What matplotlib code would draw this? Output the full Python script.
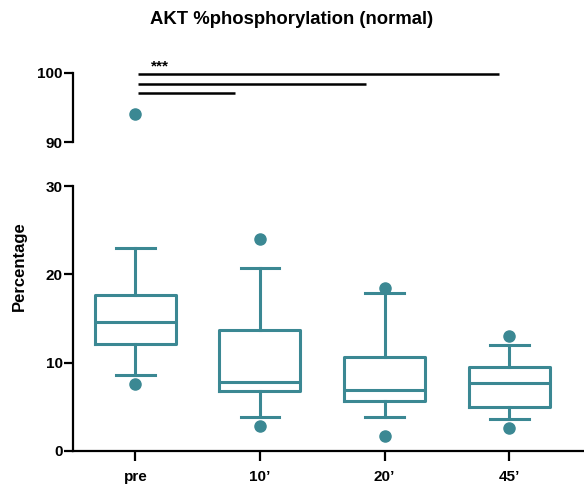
import numpy as np
import matplotlib
matplotlib.use('Agg')
import matplotlib.pyplot as plt

plt.rcParams['font.family'] = ['Liberation Sans', 'DejaVu Sans']
plt.rcParams['font.weight'] = 'bold'

# box plot summary values
groups = ['pre', '10\u2019', '20\u2019', '45\u2019']
med = [14.6, 7.8, 6.9, 7.7]
q1 = [12.1, 6.8, 5.7, 5.0]
q3 = [17.7, 13.7, 10.6, 9.5]
whislo = [8.6, 3.9, 3.9, 3.6]
whishi = [23.0, 20.7, 17.9, 12.0]
fliers = [[7.6, 94.0], [2.8, 24.0], [1.7, 18.5], [2.6, 13.0]]

# significance bars: start, end (x in group units), height
sig_start = [0.02, 0.02, 0.02]
sig_end = [2.92, 1.85, 0.80]
sig_y = [99.8, 98.4, 97.1]

teal = '#3B8893'

stats = []
for i in range(len(groups)):
    stats.append(dict(med=med[i], q1=q1[i], q3=q3[i], whislo=whislo[i],
                      whishi=whishi[i], fliers=fliers[i], label=groups[i]))

fig = plt.figure(figsize=(5.84, 4.87), dpi=100)
left = 73 / 584
ax_lo = fig.add_axes([left, 36 / 487, 1 - left, 265 / 487])
ax_hi = fig.add_axes([left, (487 - 142) / 487, 1 - left, 69 / 487])

pos = np.arange(len(groups))
for ax in (ax_lo, ax_hi):
    ax.bxp(stats, positions=pos, widths=0.65, patch_artist=False,
           boxprops=dict(color=teal, linewidth=2.2),
           medianprops=dict(color=teal, linewidth=2.2),
           whiskerprops=dict(color=teal, linewidth=2.2),
           capprops=dict(color=teal, linewidth=2.2),
           capwidths=0.31,
           flierprops=dict(marker='o', markerfacecolor=teal, markeredgecolor=teal,
                           markersize=8))
    ax.set_xlim(-0.50, 3.6)
    for side in ('top', 'right'):
        ax.spines[side].set_visible(False)
    ax.spines['left'].set_linewidth(1.6)
    ax.spines['bottom'].set_linewidth(1.6)
    ax.tick_params(axis='y', length=6.5, width=1.6, labelsize=11, pad=1)
    ax.tick_params(axis='x', length=7, width=1.6, labelsize=11, pad=7)

ax_lo.set_ylim(0, 30)
ax_lo.set_yticks([0, 10, 20, 30])
ax_lo.set_xticks(pos)
ax_lo.set_xticklabels(groups, fontweight='bold')

ax_hi.set_ylim(90, 100)
ax_hi.set_yticks([90, 100])
ax_hi.spines['bottom'].set_visible(False)
ax_hi.set_xticks([])

for a, b, y in zip(sig_start, sig_end, sig_y):
    ax_hi.plot([a, b], [y, y], color='black', linewidth=1.8, clip_on=False,
               solid_capstyle='butt')
ax_hi.text(0.2, 99.9, '***', ha='center', va='bottom', fontsize=11,
           fontweight='bold')

fig.text(292 / 584, 1 - 20 / 487, 'AKT %phosphorylation (normal)', ha='center',
         va='center', fontsize=13.3, fontweight='bold')
fig.text(19 / 584, 1 - 266 / 487, 'Percentage', rotation=90, ha='center',
         va='center', fontsize=12, fontweight='bold')

fig.savefig('out.png', dpi=100)
